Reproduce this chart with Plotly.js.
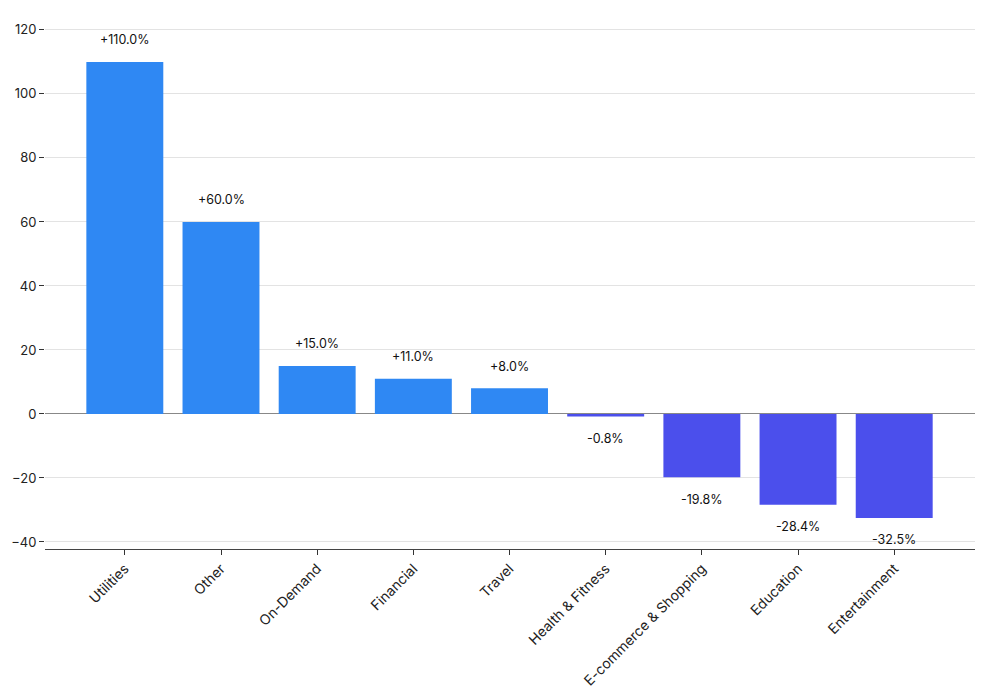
<!DOCTYPE html>
<html>
<head>
<meta charset="utf-8">
<script src="https://cdn.plot.ly/plotly-3.0.1.min.js"></script>
<style>html,body{margin:0;padding:0;background:#fff}#chart{width:984px;height:689px}</style>
</head>
<body>
<div id="chart"></div>
<script>
const categories = ["Utilities","Other","On-Demand","Financial","Travel","Health & Fitness","E-commerce & Shopping","Education","Entertainment"];
const growth = [110.0, 60.0, 15.0, 11.0, 8.0, -0.8, -19.8, -28.4, -32.5];
const posColor = "#2F88F3";
const negColor = "#4B4FEC";

const colors = growth.map(v => v >= 0 ? posColor : negColor);
const annotations = categories.map((c, i) => ({
  x: c, y: growth[i], xref: "x", yref: "y",
  text: (growth[i] >= 0 ? "+" : "") + growth[i].toFixed(1) + "%",
  showarrow: false,
  yshift: growth[i] >= 0 ? 22 : -22,
  font: {family: "Inter, 'Noto Sans', sans-serif", size: 12.5, color: "#111"}
}));

Plotly.newPlot("chart", [{
  type: "bar",
  x: categories,
  y: growth,
  marker: {color: colors},
  hoverinfo: "x+y"
}], {
  width: 984, height: 689,
  margin: {l: 45, r: 9, t: 20, b: 140},
  paper_bgcolor: "#fff", plot_bgcolor: "#fff",
  bargap: 0.2,
  showlegend: false,
  font: {family: "Inter, 'Noto Sans', sans-serif", size: 13, color: "#222"},
  xaxis: {
    range: [-0.83, 8.84],
    tickangle: -45, ticks: "outside", ticklen: 5, tickcolor: "#333",
    showline: true, linecolor: "#444", linewidth: 1, showgrid: false,
    tickfont: {size: 14, color: "#222"}
  },
  yaxis: {
    range: [-42.2, 123.1], dtick: 20, ticks: "outside", ticklen: 5, tickcolor: "#333",
    showline: false, showgrid: true, gridcolor: "#e3e3e3",
    zeroline: true, zerolinecolor: "#888", zerolinewidth: 1,
    tickfont: {size: 13, color: "#222"}
  },
  annotations: annotations
}, {displayModeBar: false});
</script>
</body>
</html>
